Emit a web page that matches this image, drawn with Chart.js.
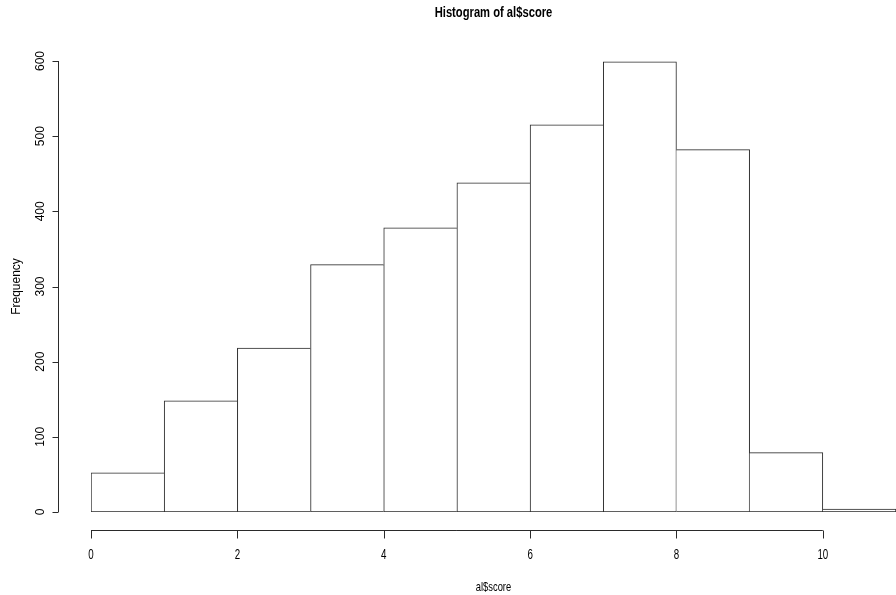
<!DOCTYPE html>
<html>
<head>
<meta charset="utf-8">
<script src="https://cdn.jsdelivr.net/npm/chart.js@4/dist/chart.umd.min.js"></script>
<style>
  html, body { margin: 0; padding: 0; background: #fff; }
  canvas { display: block; }
</style>
</head>
<body>
<canvas id="chart-score" width="896" height="595"></canvas>
<script>
// histogram of al$score, bins of width 1
var binStarts = [0, 1, 2, 3, 4, 5, 6, 7, 8, 9, 10];
var binCounts = [52, 148, 218, 329, 378, 438, 515, 599, 482, 79, 4];
var xTicks = [0, 2, 4, 6, 8, 10];
var yTicks = [0, 100, 200, 300, 400, 500, 600];
var chartTitle = 'Histogram of al$score';
var xTitle = 'al$score';
var yTitle = 'Frequency';

var lineColor = '#2a2a2a';
var plainFont = '"Liberation Sans", Arial, Helvetica, sans-serif';

var histData = binStarts.map(function (b, i) {
    return { x: b + 0.5, y: binCounts[i] };
});

// the picture's horizontal text is squeezed, so draw it narrowed
function narrowText(ctx, text, x, y, font, squeeze) {
    ctx.save();
    ctx.font = font;
    ctx.translate(x, y);
    ctx.scale(squeeze, 1);
    ctx.fillText(text, 0, 0);
    ctx.restore();
}

// R style axes, drawn off the plot region like base graphics does
var rAxes = {
    id: 'rAxes',
    afterDraw: function (chart) {
        var ctx = chart.ctx;
        var xs = chart.scales.x;
        var ys = chart.scales.y;
        ctx.save();
        ctx.strokeStyle = lineColor;
        ctx.fillStyle = '#000';
        ctx.lineWidth = 1;
        ctx.textAlign = 'center';
        ctx.textBaseline = 'middle';

        // x axis
        var axY = 530.5;
        var x0 = xs.getPixelForValue(xTicks[0]);
        var x1 = xs.getPixelForValue(xTicks[xTicks.length - 1]);
        ctx.beginPath();
        ctx.moveTo(x0, axY);
        ctx.lineTo(x1, axY);
        xTicks.forEach(function (t) {
            var px = Math.round(xs.getPixelForValue(t)) + 0.5;
            ctx.moveTo(px, axY);
            ctx.lineTo(px, axY + 8);
        });
        ctx.stroke();
        xTicks.forEach(function (t) {
            narrowText(ctx, String(t), xs.getPixelForValue(t), 555, '15px ' + plainFont, 0.65);
        });

        // y axis
        var axX = 58.5;
        var y0 = ys.getPixelForValue(yTicks[0]);
        var y1 = ys.getPixelForValue(yTicks[yTicks.length - 1]);
        ctx.beginPath();
        ctx.moveTo(axX, y0);
        ctx.lineTo(axX, y1);
        yTicks.forEach(function (t) {
            var py = Math.round(ys.getPixelForValue(t)) + 0.5;
            ctx.moveTo(axX, py);
            ctx.lineTo(axX - 6, py);
        });
        ctx.stroke();
        ctx.font = '12px ' + plainFont;
        yTicks.forEach(function (t) {
            ctx.save();
            ctx.translate(41, ys.getPixelForValue(t));
            ctx.rotate(-Math.PI / 2);
            ctx.fillText(String(t), 0, 0);
            ctx.restore();
        });

        // titles
        var midX = (chart.chartArea.left + chart.chartArea.right) / 2;
        narrowText(ctx, chartTitle, midX, 13, 'bold 14px ' + plainFont, 0.8);
        narrowText(ctx, xTitle, midX, 587, '13px ' + plainFont, 0.72);
        ctx.font = '12px ' + plainFont;
        ctx.save();
        ctx.translate(17, (y0 + y1) / 2);
        ctx.rotate(-Math.PI / 2);
        ctx.fillText(yTitle, 0, 0);
        ctx.restore();
        ctx.restore();
    }
};

const score_context = document.getElementById('chart-score').getContext('2d');
var scoreChart = new Chart(score_context, {
    type: 'bar',
    data: {
        datasets: [{
            label: 'al$score',
            data: histData,
            backgroundColor: '#ffffff',
            borderColor: lineColor,
            borderSkipped: false,
            // draw a shared edge only once, from the taller bar
            borderWidth: function (c) {
                var i = c.dataIndex;
                var v = binCounts;
                return {
                    top: 1,
                    bottom: 1,
                    left: (i === 0 || v[i] > v[i - 1]) ? 1 : 0,
                    right: (i === v.length - 1 || v[i] >= v[i + 1]) ? 1 : 0
                };
            },
            barPercentage: 1,
            categoryPercentage: 1
        }]
    },
    options: {
        responsive: false,
        animation: false,
        events: [],
        layout: { padding: { left: 91, right: 0, top: 61, bottom: 83 } },
        plugins: {
            legend: { display: false },
            tooltip: { enabled: false },
            title: { display: false }
        },
        scales: {
            x: { type: 'linear', min: 0, max: 11, offset: false, display: false },
            y: { type: 'linear', min: 0, max: 600, display: false }
        }
    },
    plugins: [rAxes]
});
</script>
</body>
</html>
